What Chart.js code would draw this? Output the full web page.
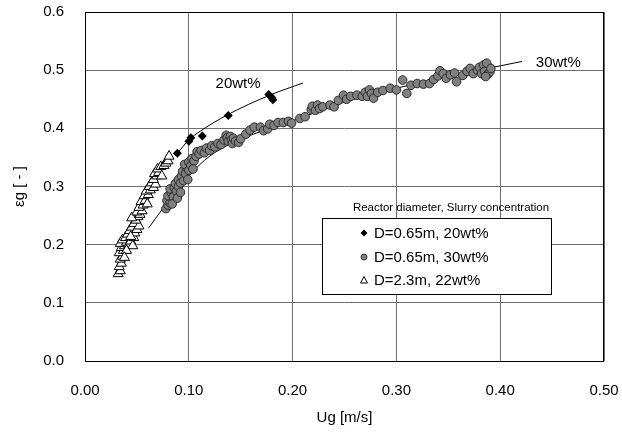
<!DOCTYPE html>
<html>
<head>
<meta charset="utf-8">
<script src="https://cdn.jsdelivr.net/npm/chart.js@4.4.1/dist/chart.umd.min.js"></script>
<style>
  html, body { margin: 0; padding: 0; background: #fff; }
  #wrap { width: 622px; height: 436px; }
</style>
</head>
<body>
<div id="wrap"><canvas id="chart"></canvas></div>
<script>
// ── Data ──────────────────────────────────
const xTicks = [0.0, 0.1, 0.2, 0.3, 0.4, 0.5];
const yTicks = [0.0, 0.1, 0.2, 0.3, 0.4, 0.5, 0.6];

const seriesNames = ['D=0.65m, 20wt%', 'D=0.65m, 30wt%', 'D=2.3m, 22wt%'];
const fitNames = ['20wt%', '30wt%'];

// D=0.65m, 20wt%
const d20X = [0.089, 0.100, 0.102, 0.113, 0.138, 0.177, 0.180, 0.181];
const d20Y = [0.357, 0.378, 0.384, 0.387, 0.422, 0.458, 0.453, 0.449];

// D=0.65m, 30wt%
const d30X = [
  0.078, 0.080, 0.079, 0.082, 0.080, 0.083, 0.085, 0.082, 0.086, 0.088,
  0.087, 0.090, 0.090, 0.092, 0.093, 0.095, 0.094, 0.097, 0.098, 0.096,
  0.100, 0.100, 0.102, 0.103, 0.105, 0.107, 0.108, 0.110, 0.112, 0.115,
  0.117, 0.120, 0.122, 0.125, 0.128, 0.131, 0.134, 0.136, 0.137, 0.138,
  0.140, 0.141, 0.142, 0.143, 0.145, 0.148, 0.150,
  0.155, 0.159, 0.163, 0.169, 0.172, 0.176, 0.178, 0.182, 0.186, 0.191,
  0.196, 0.199, 0.207, 0.212, 0.218, 0.219, 0.222, 0.224, 0.226, 0.229,
  0.236, 0.240, 0.244,
  0.249, 0.252, 0.256, 0.262, 0.267, 0.270, 0.272, 0.274, 0.276, 0.278,
  0.282, 0.287, 0.294, 0.300, 0.306, 0.310, 0.314, 0.320, 0.326, 0.332,
  0.336, 0.340, 0.342, 0.345, 0.348, 0.352, 0.356, 0.358, 0.364, 0.368,
  0.371, 0.374, 0.378, 0.380, 0.382, 0.384, 0.385, 0.387, 0.388, 0.390,
  0.391, 0.386, 0.084, 0.089, 0.092, 0.099, 0.104
];
const d30Y = [
  0.262, 0.268, 0.276, 0.272, 0.284, 0.290, 0.282, 0.296, 0.298, 0.292,
  0.305, 0.300, 0.312, 0.306, 0.318, 0.310, 0.326, 0.322, 0.332, 0.338,
  0.328, 0.342, 0.336, 0.348, 0.344, 0.352, 0.360, 0.356, 0.362, 0.358,
  0.366, 0.362, 0.370, 0.368, 0.374, 0.372, 0.380, 0.388, 0.384, 0.378,
  0.386, 0.380, 0.374, 0.383, 0.378, 0.376, 0.382,
  0.390, 0.397, 0.402, 0.402, 0.396, 0.399, 0.407, 0.405, 0.410, 0.410,
  0.412, 0.409, 0.417, 0.420, 0.432, 0.438, 0.431, 0.440, 0.434, 0.437,
  0.440, 0.437, 0.448,
  0.457, 0.450, 0.455, 0.457, 0.455, 0.462, 0.455, 0.466, 0.460, 0.452,
  0.462, 0.465, 0.469, 0.466, 0.483, 0.460, 0.474, 0.477, 0.476, 0.477,
  0.484, 0.490, 0.499, 0.494, 0.486, 0.492, 0.495, 0.480, 0.491, 0.498,
  0.503, 0.494, 0.500, 0.505, 0.494, 0.509, 0.498, 0.512, 0.493, 0.497,
  0.503, 0.489, 0.270, 0.280, 0.290, 0.312, 0.330
];

// D=2.3m, 22wt%
const d22X = [
  0.032, 0.034, 0.033, 0.035, 0.034, 0.036, 0.033, 0.037, 0.035, 0.038,
  0.034, 0.040, 0.036, 0.042, 0.039, 0.044, 0.046, 0.041, 0.047, 0.043,
  0.048, 0.045, 0.050, 0.047, 0.052, 0.049, 0.051, 0.045, 0.053, 0.050,
  0.055, 0.052, 0.056, 0.054, 0.058, 0.060, 0.057, 0.061, 0.059, 0.063,
  0.062, 0.066, 0.064, 0.068, 0.066, 0.069, 0.067, 0.071, 0.070, 0.073,
  0.076, 0.078, 0.080, 0.081, 0.074, 0.040, 0.038, 0.044
];
const d22Y = [
  0.150, 0.155, 0.162, 0.168, 0.175, 0.180, 0.186, 0.190, 0.195, 0.198,
  0.202, 0.204, 0.208, 0.200, 0.212, 0.206, 0.198, 0.218, 0.212, 0.224,
  0.220, 0.230, 0.226, 0.236, 0.232, 0.242, 0.248, 0.246, 0.252, 0.256,
  0.258, 0.264, 0.268, 0.274, 0.276, 0.270, 0.284, 0.286, 0.292, 0.294,
  0.300, 0.298, 0.306, 0.304, 0.312, 0.318, 0.322, 0.324, 0.330, 0.334,
  0.336, 0.340, 0.344, 0.352, 0.318, 0.190, 0.178, 0.214
];

// fitted curves
const fit20X = [0.089, 0.100, 0.111, 0.137, 0.178, 0.210];
const fit20Y = [0.357, 0.380, 0.395, 0.423, 0.457, 0.478];
const fit30X = [0.061, 0.075, 0.090, 0.100, 0.120, 0.150, 0.200, 0.250, 0.300, 0.350, 0.421];
const fit30Y = [0.228, 0.262, 0.295, 0.318, 0.352, 0.381, 0.413, 0.445, 0.469, 0.489, 0.515];

const pts = (xs, ys) => xs.map((x, i) => ({ x: x, y: ys[i] }));

const FONT = "'Liberation Sans', Arial, sans-serif";

// ── Frame, curve labels and legend box ────
const decorPlugin = {
  id: 'decor',
  afterDatasetsDraw(chart) {
    const { ctx, chartArea: a, scales: { x, y } } = chart;
    ctx.save();
    ctx.strokeStyle = '#000';
    ctx.lineWidth = 1;
    ctx.strokeRect(a.left + 0.5, a.top + 0.5, a.right - a.left - 1, a.bottom - a.top);

    // curve labels
    ctx.fillStyle = '#000';
    ctx.font = '15px ' + FONT;
    ctx.textAlign = 'center';
    ctx.textBaseline = 'middle';
    ctx.fillText(fitNames[0], x.getPixelForValue(0.1475), y.getPixelForValue(0.476));
    ctx.fillText(fitNames[1], x.getPixelForValue(0.456), y.getPixelForValue(0.513));

    // legend title
    ctx.font = '11.5px ' + FONT;
    ctx.fillText('Reactor diameter, Slurry concentration', 451, 208);

    // legend box
    ctx.fillStyle = '#fff';
    ctx.fillRect(322, 218, 229, 76);
    ctx.strokeRect(322.5, 218.5, 229, 76);

    const rows = [233, 257, 280];
    ctx.font = '15px ' + FONT;
    ctx.textAlign = 'left';
    rows.forEach((ry, i) => {
      const mx = 364;
      ctx.lineWidth = 1;
      ctx.beginPath();
      if (i === 0) {
        ctx.moveTo(mx, ry - 3.5); ctx.lineTo(mx + 3.5, ry); ctx.lineTo(mx, ry + 3.5); ctx.lineTo(mx - 3.5, ry);
        ctx.closePath(); ctx.fillStyle = '#000'; ctx.fill();
      } else if (i === 1) {
        ctx.arc(mx, ry, 3, 0, Math.PI * 2);
        ctx.fillStyle = '#808080'; ctx.fill(); ctx.strokeStyle = '#333'; ctx.stroke();
      } else {
        ctx.moveTo(mx, ry - 3.5); ctx.lineTo(mx + 3.5, ry + 3); ctx.lineTo(mx - 3.5, ry + 3);
        ctx.closePath(); ctx.fillStyle = '#fff'; ctx.fill(); ctx.strokeStyle = '#000'; ctx.stroke();
      }
      ctx.fillStyle = '#000';
      ctx.fillText(seriesNames[i], 374, ry + 1);
    });
    ctx.restore();
  }
};

// drop the automatic label overhang padding so the plot box sits where the figure has it
const noPad = s => { s.paddingLeft = 0; s.paddingRight = 0; s.paddingTop = 0; s.paddingBottom = 0; };

new Chart(document.getElementById('chart'), {
  type: 'scatter',
  data: {
    datasets: [
      {
        label: seriesNames[0],
        data: pts(d20X, d20Y),
        pointStyle: 'rectRot',
        pointRadius: 4.5,
        backgroundColor: '#000',
        borderColor: '#000',
        borderWidth: 0,
        order: 1,
      },
      {
        label: seriesNames[1],
        data: pts(d30X, d30Y),
        pointStyle: 'circle',
        pointRadius: 4.3,
        backgroundColor: '#808080',
        borderColor: '#2a2a2a',
        borderWidth: 1,
        order: 3,
      },
      {
        label: seriesNames[2],
        data: pts(d22X, d22Y),
        pointStyle: 'triangle',
        pointRadius: 5.8,
        backgroundColor: '#fff',
        borderColor: '#000',
        borderWidth: 1,
        order: 2,
      },
      {
        type: 'line',
        label: fitNames[0],
        data: pts(fit20X, fit20Y),
        borderColor: '#000',
        borderWidth: 1,
        pointRadius: 0,
        cubicInterpolationMode: 'monotone',
        fill: false,
        order: 0,
      },
      {
        type: 'line',
        label: fitNames[1],
        data: pts(fit30X, fit30Y),
        borderColor: '#000',
        borderWidth: 1,
        pointRadius: 0,
        cubicInterpolationMode: 'monotone',
        fill: false,
        order: 4,
      },
    ],
  },
  options: {
    responsive: true,
    maintainAspectRatio: false,
    animation: false,
    layout: { padding: { left: 0, top: 12, right: 18, bottom: 0 } },
    plugins: { legend: { display: false }, tooltip: { enabled: false } },
    scales: {
      x: {
        type: 'linear',
        min: 0, max: 0.5,
        afterBuildTicks: s => { s.ticks = xTicks.map(v => ({ value: v })); },
        afterFit: s => { s.height = 75; noPad(s); },
        grid: { color: '#6e6e6e', lineWidth: 1, drawTicks: false },
        border: { display: false },
        ticks: { padding: 21, color: '#000', font: { family: FONT, size: 15 }, maxRotation: 0,
                 callback: v => v.toFixed(2) },
        title: { display: true, text: 'Ug [m/s]', color: '#000', font: { family: FONT, size: 15 },
                 padding: { top: 0, bottom: 9 } },
      },
      y: {
        type: 'linear',
        min: 0, max: 0.6,
        afterBuildTicks: s => { s.ticks = yTicks.map(v => ({ value: v })); },
        afterFit: s => { s.width = 85; noPad(s); },
        grid: { color: '#6e6e6e', lineWidth: 1, drawTicks: false },
        border: { display: false },
        ticks: { padding: 21, color: '#000', font: { family: FONT, size: 15 },
                 callback: v => v.toFixed(1) },
        title: { display: true, text: 'εg [ - ]', color: '#000', font: { family: FONT, size: 15 },
                 padding: { top: 11, bottom: 0 } },
      },
    },
  },
  plugins: [decorPlugin],
});
</script>
</body>
</html>
